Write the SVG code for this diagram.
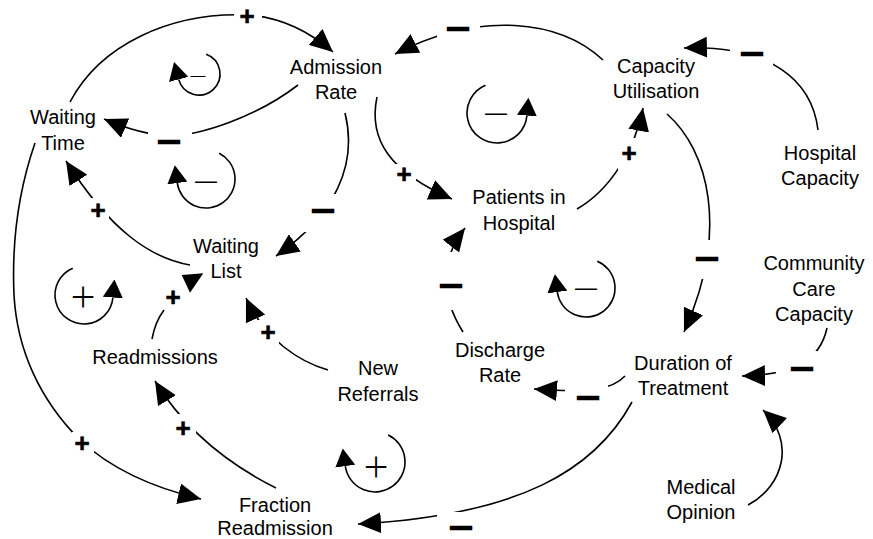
<svg xmlns="http://www.w3.org/2000/svg" width="873" height="539" viewBox="0 0 873 539">
<style>
.n text{font-family:"Liberation Sans",Arial,sans-serif;font-size:20px;text-anchor:middle;fill:#000}
.c path{fill:none;stroke:#000;stroke-width:1.6}
.bg{fill:#fff}
.sp{font-family:"Liberation Sans",Arial,sans-serif;font-weight:bold;font-size:26px;text-anchor:middle;fill:#000;stroke:#000;stroke-width:0.6}
.sm{font-family:"Liberation Sans",Arial,sans-serif;font-weight:bold;font-size:20px;text-anchor:middle;fill:#000;stroke:#000;stroke-width:2.4}
.lp path{fill:none;stroke:#000;stroke-width:1.6}
.ls{font-family:"Liberation Sans",Arial,sans-serif;font-size:22px;text-anchor:middle;fill:#000}
.lp2{font-family:"Open Sans","Liberation Sans",sans-serif;font-weight:300;font-size:44px;text-anchor:middle;fill:#000}
</style>
<defs>
<marker id="ah" markerUnits="userSpaceOnUse" markerWidth="23" markerHeight="21" viewBox="0 0 23 21" refX="23" refY="10.5" orient="auto"><path d="M0,0 L23,10.5 L0,21 z" fill="#000"/></marker>
<marker id="la" markerUnits="userSpaceOnUse" markerWidth="18" markerHeight="20" viewBox="0 0 18 20" refX="0" refY="10" orient="auto"><path d="M0,0 L18,10 L0,20 z" fill="#000"/></marker>
</defs>
<rect width="873" height="539" fill="#fff"/>

<g id="connectors" class="c">
<path id="c1" d="M70,102 C100,45 170,12 247,15 C280,17 310,32 333,52" marker-end="url(#ah)"/>
<path id="c2" d="M298,85 C255,118 200,135 170,136 C150,135 125,128 104,119" marker-end="url(#ah)"/>
<path id="c3" d="M345,113 C358,165 335,215 276,256" marker-end="url(#ah)"/>
<path id="c4" d="M377,97 C368,140 390,172 452,199" marker-end="url(#ah)"/>
<path id="c5" d="M603,60 C560,20 480,10 395,54" marker-end="url(#ah)"/>
<path id="c6" d="M818,130 C812,80 770,45 684,48" marker-end="url(#ah)"/>
<path id="c7" d="M577,209 C610,190 635,150 643,108" marker-end="url(#ah)"/>
<path id="c8" d="M667,114 C708,150 730,230 684,332" marker-end="url(#ah)"/>
<path id="c9" d="M827,328 C820,360 795,375 742,376" marker-end="url(#ah)"/>
<path id="c10" d="M748,505 C785,485 795,440 763,410" marker-end="url(#ah)"/>
<path id="c11" d="M625,376 C612,390 590,393 534,389" marker-end="url(#ah)"/>
<path id="c12" d="M463,332 C440,295 440,260 465,228" marker-end="url(#ah)"/>
<path id="c13" d="M632,402 C595,470 520,515 358,524" marker-end="url(#ah)"/>
<path id="c14" d="M190,265 C150,258 110,230 66,161" marker-end="url(#ah)"/>
<path id="c15" d="M152,339 C154,328 158,318 164,310"/>
<polygon points="181.7,275 203.3,273.3 190,292.7" fill="#000"/>
<path id="c16" d="M328,370 C300,362 265,340 246,298" marker-end="url(#ah)"/>
<path id="c17" d="M276,488 C230,465 185,430 155,381" marker-end="url(#ah)"/>
<path id="c18" d="M35,143 C17,195 12,250 14,295 C17,350 40,400 80,440 C110,468 150,487 201,499" marker-end="url(#ah)"/>

<rect class="bg" x="234" y="6" width="28" height="22"/>
<rect class="bg" x="148" y="127" width="44" height="20"/>
<rect class="bg" x="297" y="194" width="45" height="38"/>
<rect class="bg" x="394" y="164" width="22" height="22"/>
<rect class="bg" x="437" y="16" width="43" height="22"/>
<rect class="bg" x="730" y="40" width="43" height="26"/>
<rect class="bg" x="618" y="138" width="24" height="32"/>
<rect class="bg" x="694" y="240" width="26" height="39"/>
<rect class="bg" x="776" y="351" width="41" height="29"/>
<rect class="bg" x="565" y="384" width="43" height="20"/>
<rect class="bg" x="438" y="252" width="26" height="58"/>
<rect class="bg" x="437" y="512" width="43" height="25"/>
<rect class="bg" x="88" y="198" width="21" height="24"/>
<rect class="bg" x="258" y="320" width="21" height="25"/>
<rect class="bg" x="174" y="414" width="22" height="26"/>
<rect class="bg" x="72" y="432" width="22" height="21"/>

<text class="sp" x="247" y="25">+</text>
<text class="sm" x="169" y="146.6">—</text>
<text class="sm" x="323" y="215.6">—</text>
<text class="sp" x="404" y="183">+</text>
<text class="sm" x="458" y="33.6">—</text>
<text class="sm" x="752" y="58.6">—</text>
<text class="sp" x="629" y="162">+</text>
<text class="sm" x="707" y="263.6">—</text>
<text class="sm" x="802" y="373.6">—</text>
<text class="sm" x="588" y="402.6">—</text>
<text class="sm" x="451" y="290.6">—</text>
<text class="sm" x="461" y="532.6">—</text>
<text class="sp" x="98" y="219">+</text>
<text class="sp" x="173" y="306">+</text>
<text class="sp" x="268" y="341">+</text>
<text class="sp" x="183" y="437">+</text>
<text class="sp" x="82" y="452">+</text>
</g>

<g id="loops" class="lp">
<g id="loopA"><path d="M206.2,54.3 A21,21 0 1 1 178.7,79.4" marker-end="url(#la)"/><text class="ls" x="198" y="80" style="font-size:15px">—</text></g>
<g id="loopB"><path d="M219.2,153.2 A29,29 0 1 1 177.3,183" marker-end="url(#la)"/><text class="ls" x="206" y="188">—</text></g>
<g id="loopC"><path d="M485.5,85.3 A30,30 0 1 0 526.9,115.6" marker-end="url(#la)"/><text class="ls" x="496" y="120">—</text></g>
<g id="loopD"><path d="M597.3,261.3 A29,29 0 1 1 557.3,292" marker-end="url(#la)"/><text class="ls" x="586" y="295">—</text></g>
<g id="loopE"><path d="M72.7,268.3 A29,29 0 1 0 112.9,297.5" marker-end="url(#la)"/><text class="lp2" x="83" y="312.5">+</text></g>
<g id="loopF"><path d="M388.2,435 A30,30 0 1 1 345.3,466.2" marker-end="url(#la)"/><text class="lp2" x="376" y="482.5">+</text></g>
</g>

<g class="n">
<g id="admission-rate"><text x="336" y="74">Admission</text><text x="336" y="99">Rate</text></g>
<g id="waiting-time"><text x="63" y="124">Waiting</text><text x="63" y="150">Time</text></g>
<g id="capacity-utilisation"><text x="656" y="73">Capacity</text><text x="656" y="98">Utilisation</text></g>
<g id="hospital-capacity"><text x="820" y="160">Hospital</text><text x="820" y="185">Capacity</text></g>
<g id="patients-in-hospital"><text x="519" y="204">Patients in</text><text x="519" y="230">Hospital</text></g>
<g id="waiting-list"><text x="226" y="253">Waiting</text><text x="226" y="278">List</text></g>
<g id="community-care-capacity"><text x="814" y="270">Community</text><text x="814" y="296">Care</text><text x="814" y="321">Capacity</text></g>
<g id="discharge-rate"><text x="500" y="357">Discharge</text><text x="500" y="382">Rate</text></g>
<g id="duration-of-treatment"><text x="683" y="370">Duration of</text><text x="683" y="395">Treatment</text></g>
<g id="medical-opinion"><text x="701" y="494">Medical</text><text x="701" y="519">Opinion</text></g>
<g id="readmissions"><text x="155" y="364">Readmissions</text></g>
<g id="new-referrals"><text x="378" y="375">New</text><text x="378" y="401">Referrals</text></g>
<g id="fraction-readmission"><text x="275" y="512">Fraction</text><text x="275" y="535">Readmission</text></g>
</g>
</svg>
